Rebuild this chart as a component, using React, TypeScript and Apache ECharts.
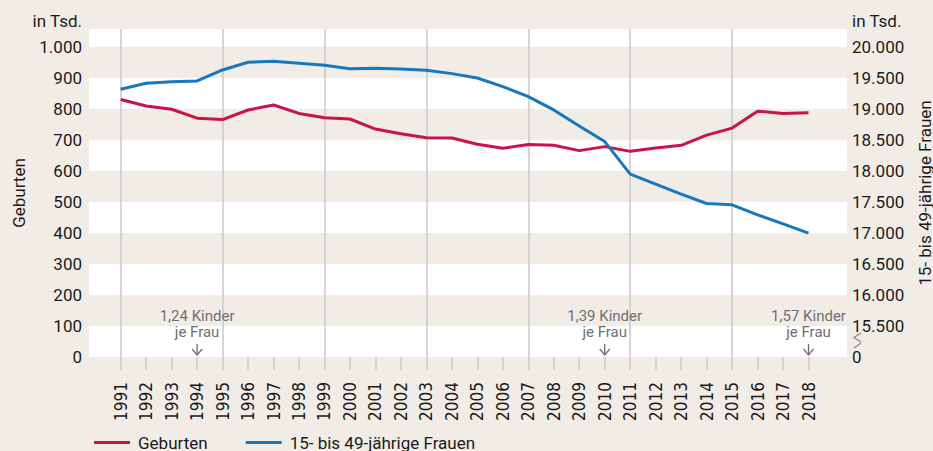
import React, { useEffect, useRef } from "react";
import * as echarts from "echarts";

const years = [1991, 1992, 1993, 1994, 1995, 1996, 1997, 1998, 1999, 2000, 2001, 2002, 2003, 2004, 2005, 2006, 2007, 2008, 2009, 2010, 2011, 2012, 2013, 2014, 2015, 2016, 2017, 2018];
// Geburten in Tsd.
const geburten = [830.0, 809.1, 798.4, 769.6, 765.2, 796.0, 812.2, 785.0, 770.7, 767.0, 734.5, 719.3, 706.7, 705.6, 685.8, 672.7, 684.9, 682.5, 665.1, 677.9, 662.7, 673.5, 682.1, 714.9, 737.6, 792.1, 784.9, 787.5];
// 15- bis 49-jährige Frauen in Tsd.
const frauen = [19314, 19411, 19437, 19448, 19625, 19749, 19765, 19733, 19700, 19646, 19652, 19641, 19620, 19566, 19495, 19356, 19195, 18981, 18723, 18471, 17946, 17785, 17624, 17473, 17452, 17291, 17146, 16996];
const gridYears = [1991, 1995, 1999, 2003, 2007, 2011, 2015];
const annotations = [
  { year: 1994, rate: "1,24" },
  { year: 2010, rate: "1,39" },
  { year: 2018, rate: "1,57" },
];

const RED = "#c8144b";
const BLUE = "#1679c0";
const BG = "#f1ede6";
const GRID = "#c8c8c8";
const TEXT = "#1a1a1a";
const FONT = "Roboto";

const fmt = (v: number) => String(v).replace(/\B(?=(\d{3})+(?!\d))/g, ".");

export default function App() {
  const ref = useRef<HTMLDivElement>(null);
  useEffect(() => {
    document.body.style.margin = "0";
    document.body.style.background = BG;
    const chart = echarts.init(ref.current!, null, { renderer: "svg" });
    const option: any = {
      animation: false,
      backgroundColor: BG,
      textStyle: { fontFamily: FONT },
      grid: { left: 89, right: 86, top: 29, bottom: 94, containLabel: false, outerBoundsMode: "none" },
      legend: {
        left: 89,
        top: 429,
        icon: "rect",
        itemWidth: 36,
        itemHeight: 3,
        itemGap: 38,
        textStyle: { fontSize: 17, color: TEXT, fontFamily: FONT, padding: [0, 0, 0, 3] },
        data: [
          { name: "Geburten", itemStyle: { color: RED } },
          { name: "15- bis 49-jährige Frauen", itemStyle: { color: BLUE } },
        ],
      },
      graphic: [
        { type: "text", x: 82, y: 21, style: { text: "in Tsd.", fill: TEXT, font: `17px ${FONT}`, align: "right", verticalAlign: "middle" } },
        { type: "text", x: 852, y: 21, style: { text: "in Tsd.", fill: TEXT, font: `17px ${FONT}`, align: "left", verticalAlign: "middle" } },
        { type: "polyline", shape: { points: [[861, 333], [854, 337.5], [861, 342]] }, style: { stroke: "#8a8a8a", lineWidth: 1.3, fill: "none" } },
        { type: "line", shape: { x1: 854, y1: 348, x2: 861, y2: 343 }, style: { stroke: "#8a8a8a", lineWidth: 1.3 } },
      ],
      xAxis: [
        {
          type: "value",
          min: 1989.757,
          max: 2019.51,
          axisLine: { show: false },
          splitLine: { show: false },
          axisTick: { show: true, length: 13, customValues: years, lineStyle: { color: GRID, width: 1.5 } },
          axisLabel: {
            customValues: years,
            rotate: 90,
            margin: 25,
            fontSize: 17,
            color: TEXT,
            fontFamily: "Liberation Sans Narrow, DejaVu Sans Condensed, Roboto",
            formatter: (v: number) => String(v),
          },
        },
        {
          type: "value",
          min: 1989.757,
          max: 2019.51,
          axisLine: { show: false },
          axisTick: { show: false, customValues: gridYears },
          axisLabel: { show: false, customValues: gridYears },
          splitLine: { show: true, lineStyle: { color: GRID, width: 1.5 } },
        },
      ],
      yAxis: [
        {
          type: "value",
          min: 0,
          max: 1057,
          interval: 100,
          name: "Geburten",
          nameLocation: "middle",
          nameGap: 62,
          nameRotate: 90,
          nameTextStyle: { fontSize: 17, color: TEXT, fontFamily: FONT },
          axisLine: { show: false },
          axisTick: { show: false },
          splitLine: { show: false },
          splitArea: { show: true, areaStyle: { color: ["#ffffff", BG] } },
          axisLabel: {
            fontSize: 17,
            color: TEXT,
            margin: 7,
            showMaxLabel: false,
            padding: [0, 0, 6, 0],
            formatter: (v: number) => fmt(v),
          },
        },
        {
          type: "value",
          position: "right",
          min: 15000,
          max: 20285,
          interval: 500,
          name: "15- bis 49-jährige Frauen",
          nameLocation: "middle",
          nameGap: 69,
          nameRotate: 90,
          nameTextStyle: { fontSize: 17, color: TEXT, fontFamily: FONT },
          axisLine: { show: false },
          axisTick: { show: false },
          splitLine: { show: false },
          splitArea: { show: false },
          axisLabel: {
            fontSize: 17,
            color: TEXT,
            margin: 5,
            showMaxLabel: false,
            padding: [0, 0, 6, 0],
            formatter: (v: number) => (v === 15000 ? "0" : fmt(v)),
          },
        },
      ],
      series: [
        {
          name: "Geburten",
          type: "line",
          xAxisIndex: 0,
          yAxisIndex: 0,
          symbol: "none",
          lineStyle: { color: RED, width: 3 },
          itemStyle: { color: RED },
          data: years.map((y, i) => [y, geburten[i]]),
          z: 3,
        },
        {
          name: "15- bis 49-jährige Frauen",
          type: "line",
          xAxisIndex: 0,
          yAxisIndex: 1,
          symbol: "none",
          lineStyle: { color: BLUE, width: 3 },
          itemStyle: { color: BLUE },
          data: years.map((y, i) => [y, frauen[i]]),
          z: 4,
        },
        {
          name: "annotations",
          type: "custom",
          xAxisIndex: 0,
          yAxisIndex: 0,
          data: annotations.map((a) => [a.year, 0]),
          renderItem: (params: any, api: any) => {
            const a = annotations[params.dataIndex];
            const p = api.coord([api.value(0), 0]);
            const x = p[0];
            const y = p[1];
            const c = "#6e6e6e";
            return {
              type: "group",
              children: [
                {
                  type: "text",
                  x,
                  y: y - 33,
                  style: { text: `${a.rate} Kinder\nje Frau`, fill: "#707070", font: `15px ${FONT}`, lineHeight: 16.5, align: "center", verticalAlign: "middle" },
                },
                { type: "line", shape: { x1: x, y1: y - 13, x2: x, y2: y - 2 }, style: { stroke: c, lineWidth: 1.3 } },
                { type: "polyline", shape: { points: [[x - 5, y - 8], [x, y - 2], [x + 5, y - 8]] }, style: { stroke: c, lineWidth: 1.3, fill: "none" } },
              ],
            };
          },
          z: 5,
        },
      ],
    };
    chart.setOption(option);
    return () => chart.dispose();
  }, []);
  return <div ref={ref} style={{ width: 933, height: 451 }} />;
}
